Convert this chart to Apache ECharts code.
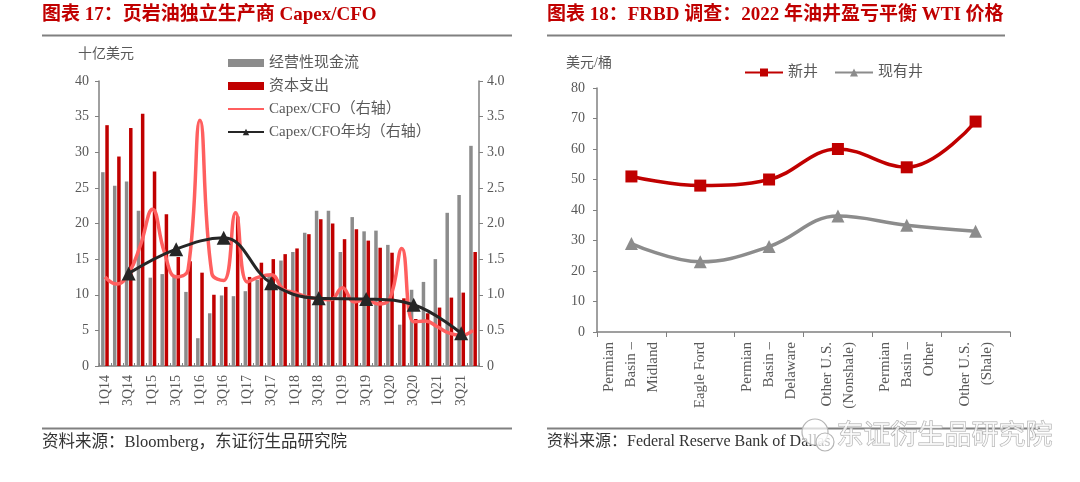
<!DOCTYPE html>
<html>
<head>
<meta charset="utf-8">
<script src="https://cdn.jsdelivr.net/npm/echarts@6/dist/echarts.min.js"></script>
<style>
html,body{margin:0;padding:0;background:#fff;}
#main{width:1080px;height:482px;}
</style>
</head>
<body>
<div id="main"></div>
<script>
// ---------- Left chart data ----------
const quarters = ['1Q14','2Q14','3Q14','4Q14','1Q15','2Q15','3Q15','4Q15','1Q16','2Q16','3Q16','4Q16',
  '1Q17','2Q17','3Q17','4Q17','1Q18','2Q18','3Q18','4Q18','1Q19','2Q19','3Q19','4Q19',
  '1Q20','2Q20','3Q20','4Q20','1Q21','2Q21','3Q21','4Q21'];
const cfo = [27.2,25.3,25.9,21.8,12.4,12.9,12.8,10.4,3.9,7.4,9.9,9.8,
  10.5,12.1,12.8,14.8,16.0,18.7,21.8,21.8,16.0,20.9,18.9,19.0,
  17.0,5.8,10.7,11.8,15.0,21.5,24.0,30.9];
const capex = [33.8,29.4,33.4,35.4,27.3,21.3,15.3,14.7,13.1,10.0,11.1,21.0,
  12.5,14.5,15.0,15.7,16.5,18.5,20.6,20.0,17.8,19.2,17.6,16.6,
  15.9,9.5,6.6,7.4,8.2,9.6,10.3,16.0];
const capexCfo = [1.25,1.15,1.3,1.7,2.2,1.6,1.25,1.35,3.45,1.3,1.2,2.15,
  1.18,1.25,1.28,1.08,1.03,0.97,0.94,0.93,1.1,0.9,0.93,0.87,
  0.95,1.65,0.62,0.63,0.55,0.46,0.43,0.5];
const annualYears = ['3Q14','3Q15','3Q16','3Q17','3Q18','3Q19','3Q20','3Q21'];
const annualAvg = [1.30,1.64,1.80,1.16,0.95,0.94,0.86,0.46];

// ---------- Right chart data ----------
const wellCats = ['Permian\nBasin –\nMidland','Eagle Ford','Permian\nBasin –\nDelaware',
  'Other U.S.\n(Nonshale)','Permian\nBasin –\nOther','Other U.S.\n(Shale)'];
const newWell = [51,48,50,60,54,69];
const existingWell = [29,23,28,38,35,33];

// build annual series aligned to quarter categories
const annualSeries = quarters.map(q => {
  const i = annualYears.indexOf(q);
  return i >= 0 ? annualAvg[i] : null;
});

const FONT = '"Liberation Serif","Noto Sans CJK SC",serif';
const CJK = '"Noto Sans CJK SC","Liberation Serif",serif';
const AX = '#808080';
const LBL = '#595959';
const RED = '#C00000';

const chart = echarts.init(document.getElementById('main'), null, {renderer:'canvas'});

const option = {
  backgroundColor:'#fff',
  animation:false,
  textStyle:{fontFamily:FONT},
  grid:[
    {left:99, right:601, top:81, bottom:116, containLabel:false},
    {left:597, right:70, top:88, bottom:150, containLabel:false}
  ],
  legend:[
    {
      orient:'vertical', left:222, top:50,
      itemWidth:36, itemHeight:8, itemGap:7,
      textStyle:{fontFamily:FONT, fontSize:15, color:LBL, lineHeight:16},
      data:[
        {name:'经营性现金流', icon:'rect'},
        {name:'资本支出', icon:'rect'},
        {name:'Capex/CFO（右轴）', itemStyle:{opacity:0}},
        {name:'Capex/CFO年均（右轴）'}
      ]
    },
    {
      orient:'horizontal', left:739, top:60,
      itemWidth:38, itemHeight:10, itemGap:16,
      textStyle:{fontFamily:FONT, fontSize:15, color:LBL},
      data:['新井','现有井']
    }
  ],
  xAxis:[
    {
      type:'category', gridIndex:0, data:quarters,
      axisLine:{show:true, lineStyle:{color:AX, width:1.5}},
      axisTick:{show:true, inside:true, length:3, interval:0, lineStyle:{color:AX}},
      axisLabel:{interval:1, rotate:90, margin:9, color:LBL, fontSize:14, fontFamily:FONT},
      splitLine:{show:false}
    },
    {
      type:'category', gridIndex:1, data:wellCats,
      axisLine:{show:true, lineStyle:{color:AX, width:1.5}},
      axisTick:{show:true, inside:false, length:5, interval:0, lineStyle:{color:AX}},
      axisLabel:{interval:0, rotate:90, margin:10, color:LBL, fontSize:15, lineHeight:22, fontFamily:FONT},
      splitLine:{show:false}
    }
  ],
  yAxis:[
    {
      type:'value', gridIndex:0, min:0, max:40, interval:5,
      axisLine:{show:true, lineStyle:{color:AX, width:1.5}},
      axisTick:{show:true, length:4, lineStyle:{color:AX}},
      axisLabel:{color:LBL, fontSize:14, margin:10, fontFamily:FONT},
      splitLine:{show:false}
    },
    {
      type:'value', gridIndex:0, position:'right', min:0, max:4, interval:0.5,
      axisLine:{show:true, lineStyle:{color:AX, width:1.5}},
      axisTick:{show:true, length:4, lineStyle:{color:AX}},
      axisLabel:{color:LBL, fontSize:14, margin:8, fontFamily:FONT,
        formatter: v => v === 0 ? '0' : v.toFixed(1)},
      splitLine:{show:false}
    },
    {
      type:'value', gridIndex:1, min:0, max:80, interval:10,
      axisLine:{show:true, lineStyle:{color:AX, width:1.5}},
      axisTick:{show:true, length:4, lineStyle:{color:AX}},
      axisLabel:{color:LBL, fontSize:14, margin:12, fontFamily:FONT},
      splitLine:{show:false}
    }
  ],
  series:[
    {
      name:'经营性现金流', type:'bar', xAxisIndex:0, yAxisIndex:0,
      data:cfo, barWidth:3.5, barGap:'20%',
      itemStyle:{color:'#8c8c8c'}
    },
    {
      name:'资本支出', type:'bar', xAxisIndex:0, yAxisIndex:0,
      data:capex, barWidth:3.5, barGap:'20%',
      itemStyle:{color:RED}
    },
    {
      name:'Capex/CFO（右轴）', type:'line', xAxisIndex:0, yAxisIndex:1,
      data:capexCfo, smooth:0.45, symbol:'none',
      lineStyle:{color:'#FF5F5F', width:3.5},
      itemStyle:{color:'#FF5F5F'}, z:3
    },
    {
      name:'Capex/CFO年均（右轴）', type:'line', xAxisIndex:0, yAxisIndex:1,
      data:annualSeries, connectNulls:true, smooth:0.4,
      symbol:'triangle', symbolSize:14,
      lineStyle:{color:'#262626', width:3},
      itemStyle:{color:'#262626'}, z:4
    },
    {
      name:'新井', type:'line', xAxisIndex:1, yAxisIndex:2,
      data:newWell, smooth:0.4, symbol:'rect', symbolSize:12,
      lineStyle:{color:RED, width:3.5}, itemStyle:{color:RED}
    },
    {
      name:'现有井', type:'line', xAxisIndex:1, yAxisIndex:2,
      data:existingWell, smooth:0.4, symbol:'triangle', symbolSize:13,
      lineStyle:{color:'#8c8c8c', width:3.5}, itemStyle:{color:'#8c8c8c'}
    }
  ],
  graphic:[
    // titles
    {type:'text', left:42, top:6, style:{text:'图表 17：页岩油独立生产商 Capex/CFO', fill:RED, font:'bold 19px '+FONT}},
    {type:'text', left:547, top:6, style:{text:'图表 18：FRBD 调查：2022 年油井盈亏平衡 WTI 价格', fill:RED, font:'bold 19px '+FONT}},
    {type:'line', shape:{x1:42, y1:35.5, x2:512, y2:35.5}, style:{stroke:'#808080', lineWidth:2}},
    {type:'line', shape:{x1:547, y1:35.5, x2:1005, y2:35.5}, style:{stroke:'#808080', lineWidth:2}},
    // axis names
    {type:'text', left:78, top:47, style:{text:'十亿美元', fill:LBL, font:'14px '+FONT}},
    {type:'text', left:566, top:56, style:{text:'美元/桶', fill:LBL, font:'14px '+FONT}},
    // bottom rules and sources
    {type:'line', shape:{x1:42, y1:428.5, x2:512, y2:428.5}, style:{stroke:'#808080', lineWidth:2}},
    {type:'line', shape:{x1:547, y1:428.5, x2:1040, y2:428.5}, style:{stroke:'#808080', lineWidth:2}},
    {type:'text', left:42, top:434, style:{text:'资料来源：Bloomberg，东证衍生品研究院', fill:'#333', font:'16.5px '+FONT}},
    {type:'text', left:547, top:434, style:{text:'资料来源：Federal Reserve Bank of Dallas', fill:'#333', font:'16px '+FONT}},
    // watermark
    {type:'circle', shape:{cx:815, cy:432, r:13}, style:{fill:'rgba(255,255,255,0.7)', stroke:'#b5b5b5', lineWidth:1.2}},
    {type:'circle', shape:{cx:825, cy:442, r:9}, style:{fill:'rgba(255,255,255,0.7)', stroke:'#b5b5b5', lineWidth:1.2}},
    {type:'text', left:836, top:420, style:{text:'东证衍生品研究院', fill:'rgba(255,255,255,0.75)', stroke:'#a8a8a8', lineWidth:1, font:'27px '+CJK}}
  ]
};
chart.setOption(option);
</script>
</body>
</html>
